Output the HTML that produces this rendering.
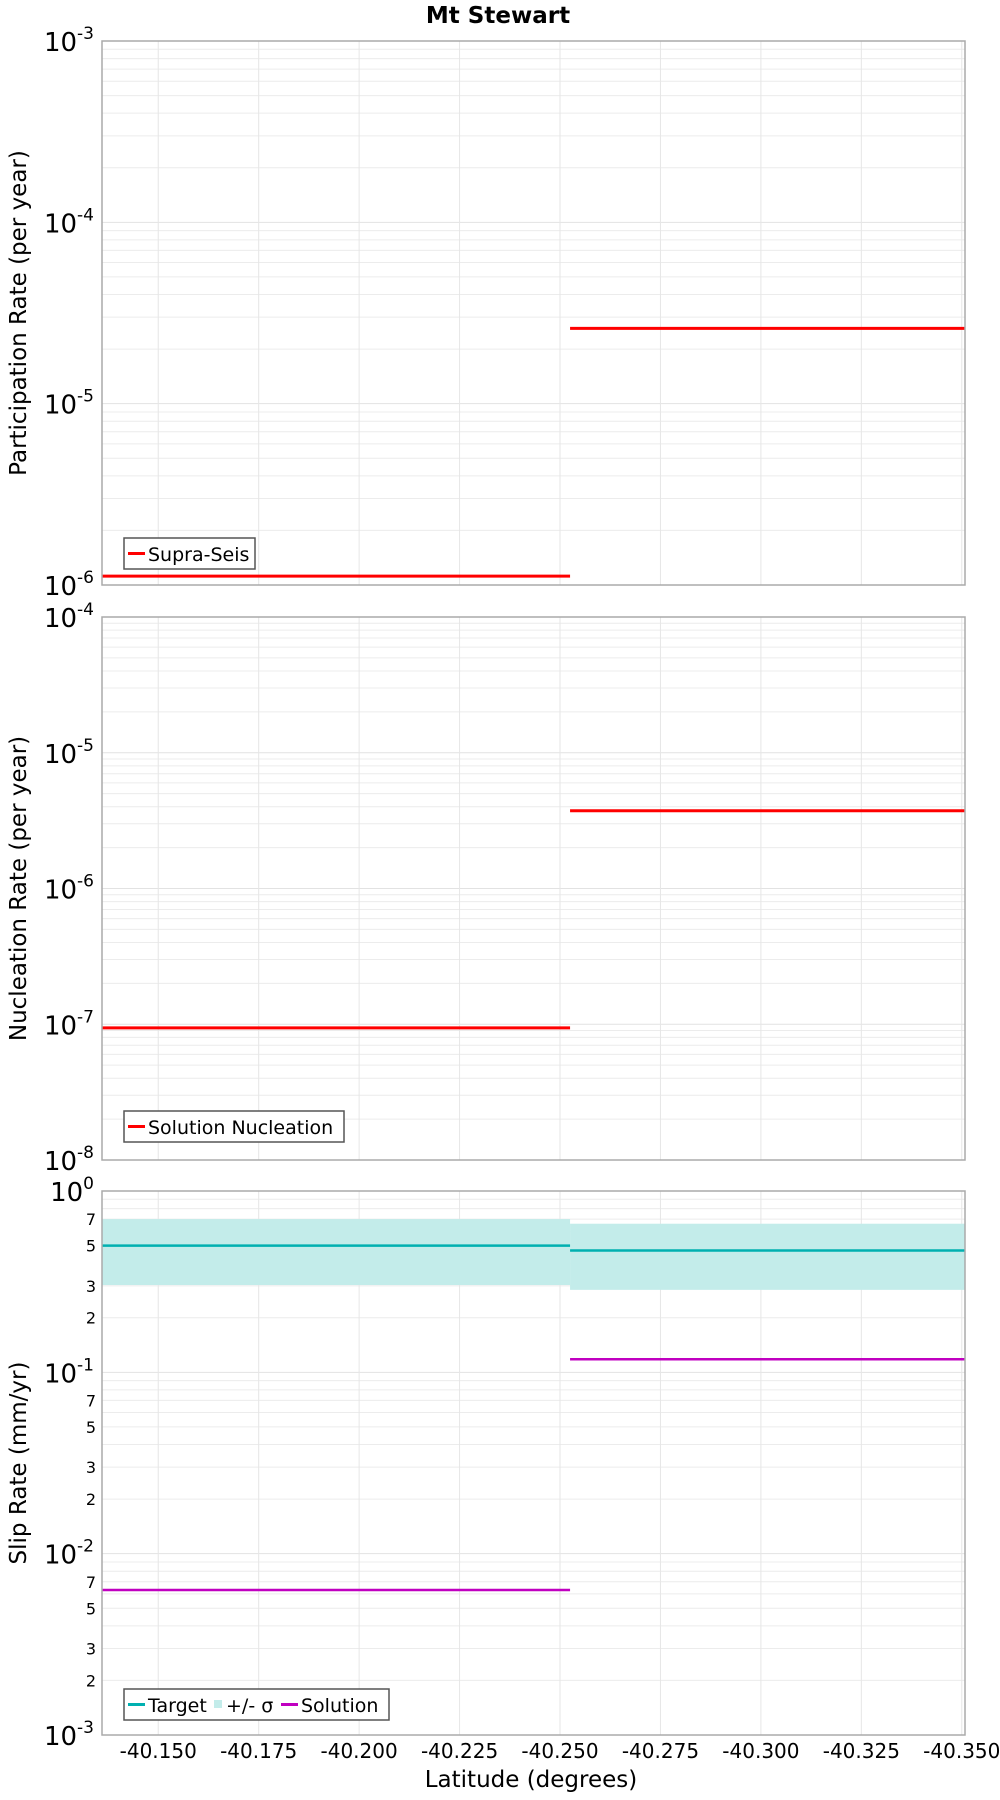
<!DOCTYPE html>
<html><head><meta charset="utf-8"><style>
html,body{margin:0;padding:0;background:#fff;}
svg{display:block;font-family:"Liberation Sans","DejaVu Sans",sans-serif;}
</style></head><body>
<svg id="chart" width="1000" height="1800" viewBox="0 0 1000 1800" xmlns="http://www.w3.org/2000/svg">
<text x="498" y="23" text-anchor="middle" font-size="23" font-weight="bold" font-family="DejaVu Sans, sans-serif">Mt Stewart</text>
<text x="531" y="1787" text-anchor="middle" font-size="23" font-family="DejaVu Sans, sans-serif">Latitude (degrees)</text>
</svg>
<script>
// shared x data (latitude)
const xTicks = [-40.150, -40.175, -40.200, -40.225, -40.250, -40.275, -40.300, -40.325, -40.350];
const xDomain = [-40.136, -40.3508];
const segStarts = [-40.136, -40.2525];
const segEnds = [-40.2525, -40.3508];
// panel 1
const partValues = [1.12e-6, 2.6e-5];
// panel 2
const nuclValues = [9.4e-8, 3.74e-6];
// panel 3
const targetValues = [0.5, 0.47];
const sigmaUpper = [0.70, 0.66];
const sigmaLower = [0.303, 0.285];
const solutionValues = [0.0063, 0.118];

const NS = 'http://www.w3.org/2000/svg';
const svg = document.getElementById('chart');
const L = 102, R = 965;
function xs(v){ return L + (v - xDomain[0]) / (xDomain[1] - xDomain[0]) * (R - L); }
function mk(tag, attrs, parent){ const e = document.createElementNS(NS, tag); for (const k in attrs) e.setAttribute(k, attrs[k]); (parent||svg).appendChild(e); return e; }

const panels = [
  {top:41, bottom:585, dmax:-3, dmin:-6, title:'Participation Rate (per year)', minorLabels:false},
  {top:617, bottom:1160, dmax:-4, dmin:-8, title:'Nucleation Rate (per year)', minorLabels:false},
  {top:1191, bottom:1735, dmax:0, dmin:-3, title:'Slip Rate (mm/yr)', minorLabels:true}
];
panels.forEach(function(p, pi){
  p.ys = function(v){ return p.bottom - (Math.log10(v) - p.dmin) / (p.dmax - p.dmin) * (p.bottom - p.top); };
  const g = mk('g', {});
  
  
  for (let d = p.dmin; d < p.dmax; d++) {
    for (let m = 1; m <= 9; m++) {
      const v = m * Math.pow(10, d);
      const y = p.ys(v);
      const gl = mk('line', {x1:L, x2:R, y1:y, y2:y, stroke: m===1 ? '#e2e2e2' : '#ececec', 'stroke-width':1}, g);
      
      
      if (p.minorLabels && (m===2||m===3||m===5||m===7)) {
        const t = mk('text', {x:96, y:y+6, 'text-anchor':'end', 'font-size':16, 'font-family':'DejaVu Sans, sans-serif'}, g);
        t.textContent = String(m);
        
        
      }
    }
  }
  xTicks.forEach(function(tv){
    const x = xs(tv);
    const vl = mk('line', {x1:x, x2:x, y1:p.top, y2:p.bottom, stroke:'#e6e6e6', 'stroke-width':1}, g);
    
    
  });
  for (let d = p.dmin; d <= p.dmax; d++) {
    const y = p.ys(Math.pow(10, d));
    const t = mk('text', {x:94, y:y+10, 'text-anchor':'end', 'font-size':26, 'font-family':'DejaVu Sans, sans-serif'}, g);
    
    
    const a = mk('tspan', {}, t); a.textContent = '10';
    const b = mk('tspan', {dy:-12, 'font-size':17}, t); b.textContent = String(d);
  }
  const cy = (p.top + p.bottom) / 2;
  const tt = mk('text', {x:0, y:0, 'text-anchor':'middle', 'font-size':23, 'font-family':'DejaVu Sans, sans-serif', transform:'translate(26,'+cy+') rotate(-90)'}, g);
  tt.textContent = p.title;
  
  
  p.g = g;
});

segStarts.forEach(function(s, i){
  const p = panels[0]; const y = p.ys(partValues[i]);
  const l = mk('line', {x1:xs(s), x2:xs(segEnds[i]), y1:y, y2:y, stroke:'#ff0000', 'stroke-width':3}, p.g);
  
  
});
segStarts.forEach(function(s, i){
  const p = panels[1]; const y = p.ys(nuclValues[i]);
  const l = mk('line', {x1:xs(s), x2:xs(segEnds[i]), y1:y, y2:y, stroke:'#ff0000', 'stroke-width':3}, p.g);
  
  
});
segStarts.forEach(function(s, i){
  const p = panels[2];
  const y1 = p.ys(sigmaUpper[i]), y2 = p.ys(sigmaLower[i]);
  const r = mk('rect', {x:xs(s), y:y1, width:xs(segEnds[i])-xs(s), height:y2-y1, fill:'#c3ecea'}, p.g);
  
  
});
segStarts.forEach(function(s, i){
  const p = panels[2];
  let y = p.ys(targetValues[i]);
  let l = mk('line', {x1:xs(s), x2:xs(segEnds[i]), y1:y, y2:y, stroke:'#00b0b0', 'stroke-width':2.5}, p.g);
  
  
  y = p.ys(solutionValues[i]);
  l = mk('line', {x1:xs(s), x2:xs(segEnds[i]), y1:y, y2:y, stroke:'#c000c0', 'stroke-width':2.5}, p.g);
  
  
});
panels.forEach(function(p){
  const f = mk('rect', {x:L, y:p.top, width:R-L, height:p.bottom-p.top, fill:'none', stroke:'#aaaaaa', 'stroke-width':1.5}, p.g);
  
  
});
xTicks.forEach(function(tv){
  const t = mk('text', {x:xs(tv), y:1758, 'text-anchor':'middle', 'font-size':20, 'font-family':'DejaVu Sans, sans-serif'});
  t.textContent = tv.toFixed(3);
  
  
});
function legend(x, y, w, entries, name){
  const g = mk('g', {});
  
  
  mk('rect', {x:x, y:y, width:w, height:31, fill:'#fff', stroke:'#555', 'stroke-width':1.5}, g);
  let cx = x + 4;
  entries.forEach(function(e){
    if (e.box) mk('rect', {x:cx+1, y:y+11, width:8, height:8, fill:e.color}, g);
    else mk('line', {x1:cx, x2:cx+17, y1:y+15.5, y2:y+15.5, stroke:e.color, 'stroke-width':3}, g);
    const tx = cx + (e.box ? 13 : 20);
    const t = mk('text', {x:tx, y:y+23, 'font-size':19, 'font-family':'DejaVu Sans, sans-serif'}, g);
    t.textContent = e.label;
    
    
    cx = tx + e.w;
  });
}
legend(124, 538, 131, [{color:'#ff0000', label:'Supra-Seis', w:100}], 'legend-participation');
legend(124, 1111, 220, [{color:'#ff0000', label:'Solution Nucleation', w:190}], 'legend-nucleation');
legend(124, 1689, 265, [{color:'#00b0b0', label:'Target', w:65},{color:'#c3ecea', label:'+/- σ', box:true, w:55},{color:'#c000c0', label:'Solution', w:80}], 'legend-slip');
</script>
</body></html>
